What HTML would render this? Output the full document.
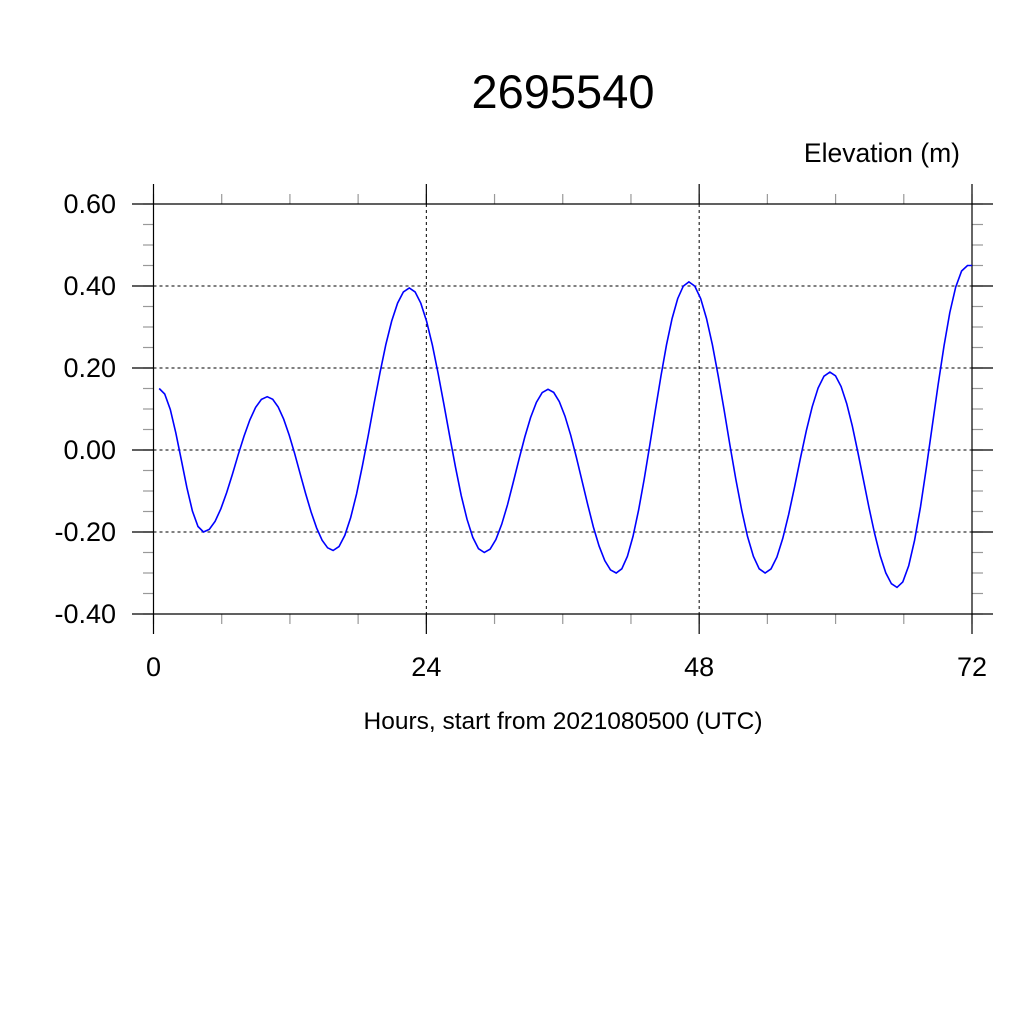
<!DOCTYPE html>
<html><head><meta charset="utf-8"><style>
html,body{margin:0;padding:0;background:#fff;}
svg{display:block;font-family:"Liberation Sans",sans-serif;}
</style></head><body>
<svg id="s" width="1024" height="1024" viewBox="0 0 1024 1024" xmlns="http://www.w3.org/2000/svg">
<text x="563" y="108" font-size="47" text-anchor="middle">2695540</text>
<text x="960" y="162" font-size="26.5" text-anchor="end">Elevation (m)</text>
<text x="563" y="729" font-size="24.5" text-anchor="middle">Hours, start from 2021080500 (UTC)</text>
<g id="g"></g>
<polyline id="c" fill="none" stroke="#0000ff" stroke-width="1.6" points=""/>
</svg>
<script>
var g=document.getElementById('g'),ns='http://www.w3.org/2000/svg';
function L(x1,y1,x2,y2,c,w,d){var l=document.createElementNS(ns,'line');l.setAttribute('x1',x1);l.setAttribute('y1',y1);l.setAttribute('x2',x2);l.setAttribute('y2',y2);l.setAttribute('stroke',c);l.setAttribute('stroke-width',w);if(d)l.setAttribute('stroke-dasharray',d);g.appendChild(l);}
function T(x,y,s,a){var t=document.createElementNS(ns,'text');t.setAttribute('x',x);t.setAttribute('y',y);t.setAttribute('font-size',27);t.setAttribute('text-anchor',a);t.textContent=s;g.appendChild(t);}
var X0=153.5,X1=972,Y0=204,Y1=614;
function yv(v){return Y0+(0.6-v)*410;}
function xh(h){return X0+h*(X1-X0)/72;}
for(var v=-0.4;v<=0.6001;v+=0.05){var y=yv(v);L(143,y,X0,y,'#999',1.2);L(X1,y,983,y,'#999',1.2);}
for(var h=0;h<=72;h+=6){var x=xh(h);L(x,194,x,Y0,'#999',1.2);L(x,Y1,x,624,'#999',1.2);}
var labs=['0.60','0.40','0.20','0.00','-0.20','-0.40'];
for(var i=0;i<6;i++){var v=0.6-0.2*i,y=yv(v);
 if(i==0||i==5)L(132,y,993,y,'#000',1.2);else{L(X0,y,X1,y,'#000',1,'3,3');L(132,y,X0,y,'#000',1.2);L(X1,y,993,y,'#000',1.2);}
 T(116,y+9,labs[i],'end');}
[0,24,48,72].forEach(function(h){var x=xh(h);
 if(h==0||h==72)L(x,184,x,634,'#000',1.2);else{L(x,Y0,x,Y1,'#000',1,'3,3');L(x,184,x,Y0,'#000',1.2);L(x,Y1,x,634,'#000',1.2);}
 T(x,676,String(h),'middle');});
var ext=[[0.5,0.15],[4.4,-0.20],[10.0,0.13],[15.8,-0.245],[22.5,0.395],[29.1,-0.25],[34.7,0.148],[40.7,-0.30],[47.1,0.41],[53.8,-0.30],[59.5,0.19],[65.4,-0.335],[71.6,0.45],[72,0.45]];
var pts=[];
for(var k=0;k<ext.length-1;k++){var a=ext[k],b=ext[k+1];var n=Math.max(2,Math.round((b[0]-a[0])*2));
 for(var j=(k==0?0:1);j<=n;j++){var t=j/n;var hh=a[0]+(b[0]-a[0])*t;
  var vv=a[1]+(b[1]-a[1])*(0.5-0.5*Math.cos(Math.PI*t));
  pts.push(xh(hh).toFixed(1)+','+yv(vv).toFixed(1));}}
document.getElementById('c').setAttribute('points',pts.join(' '));
</script>
</body></html>
